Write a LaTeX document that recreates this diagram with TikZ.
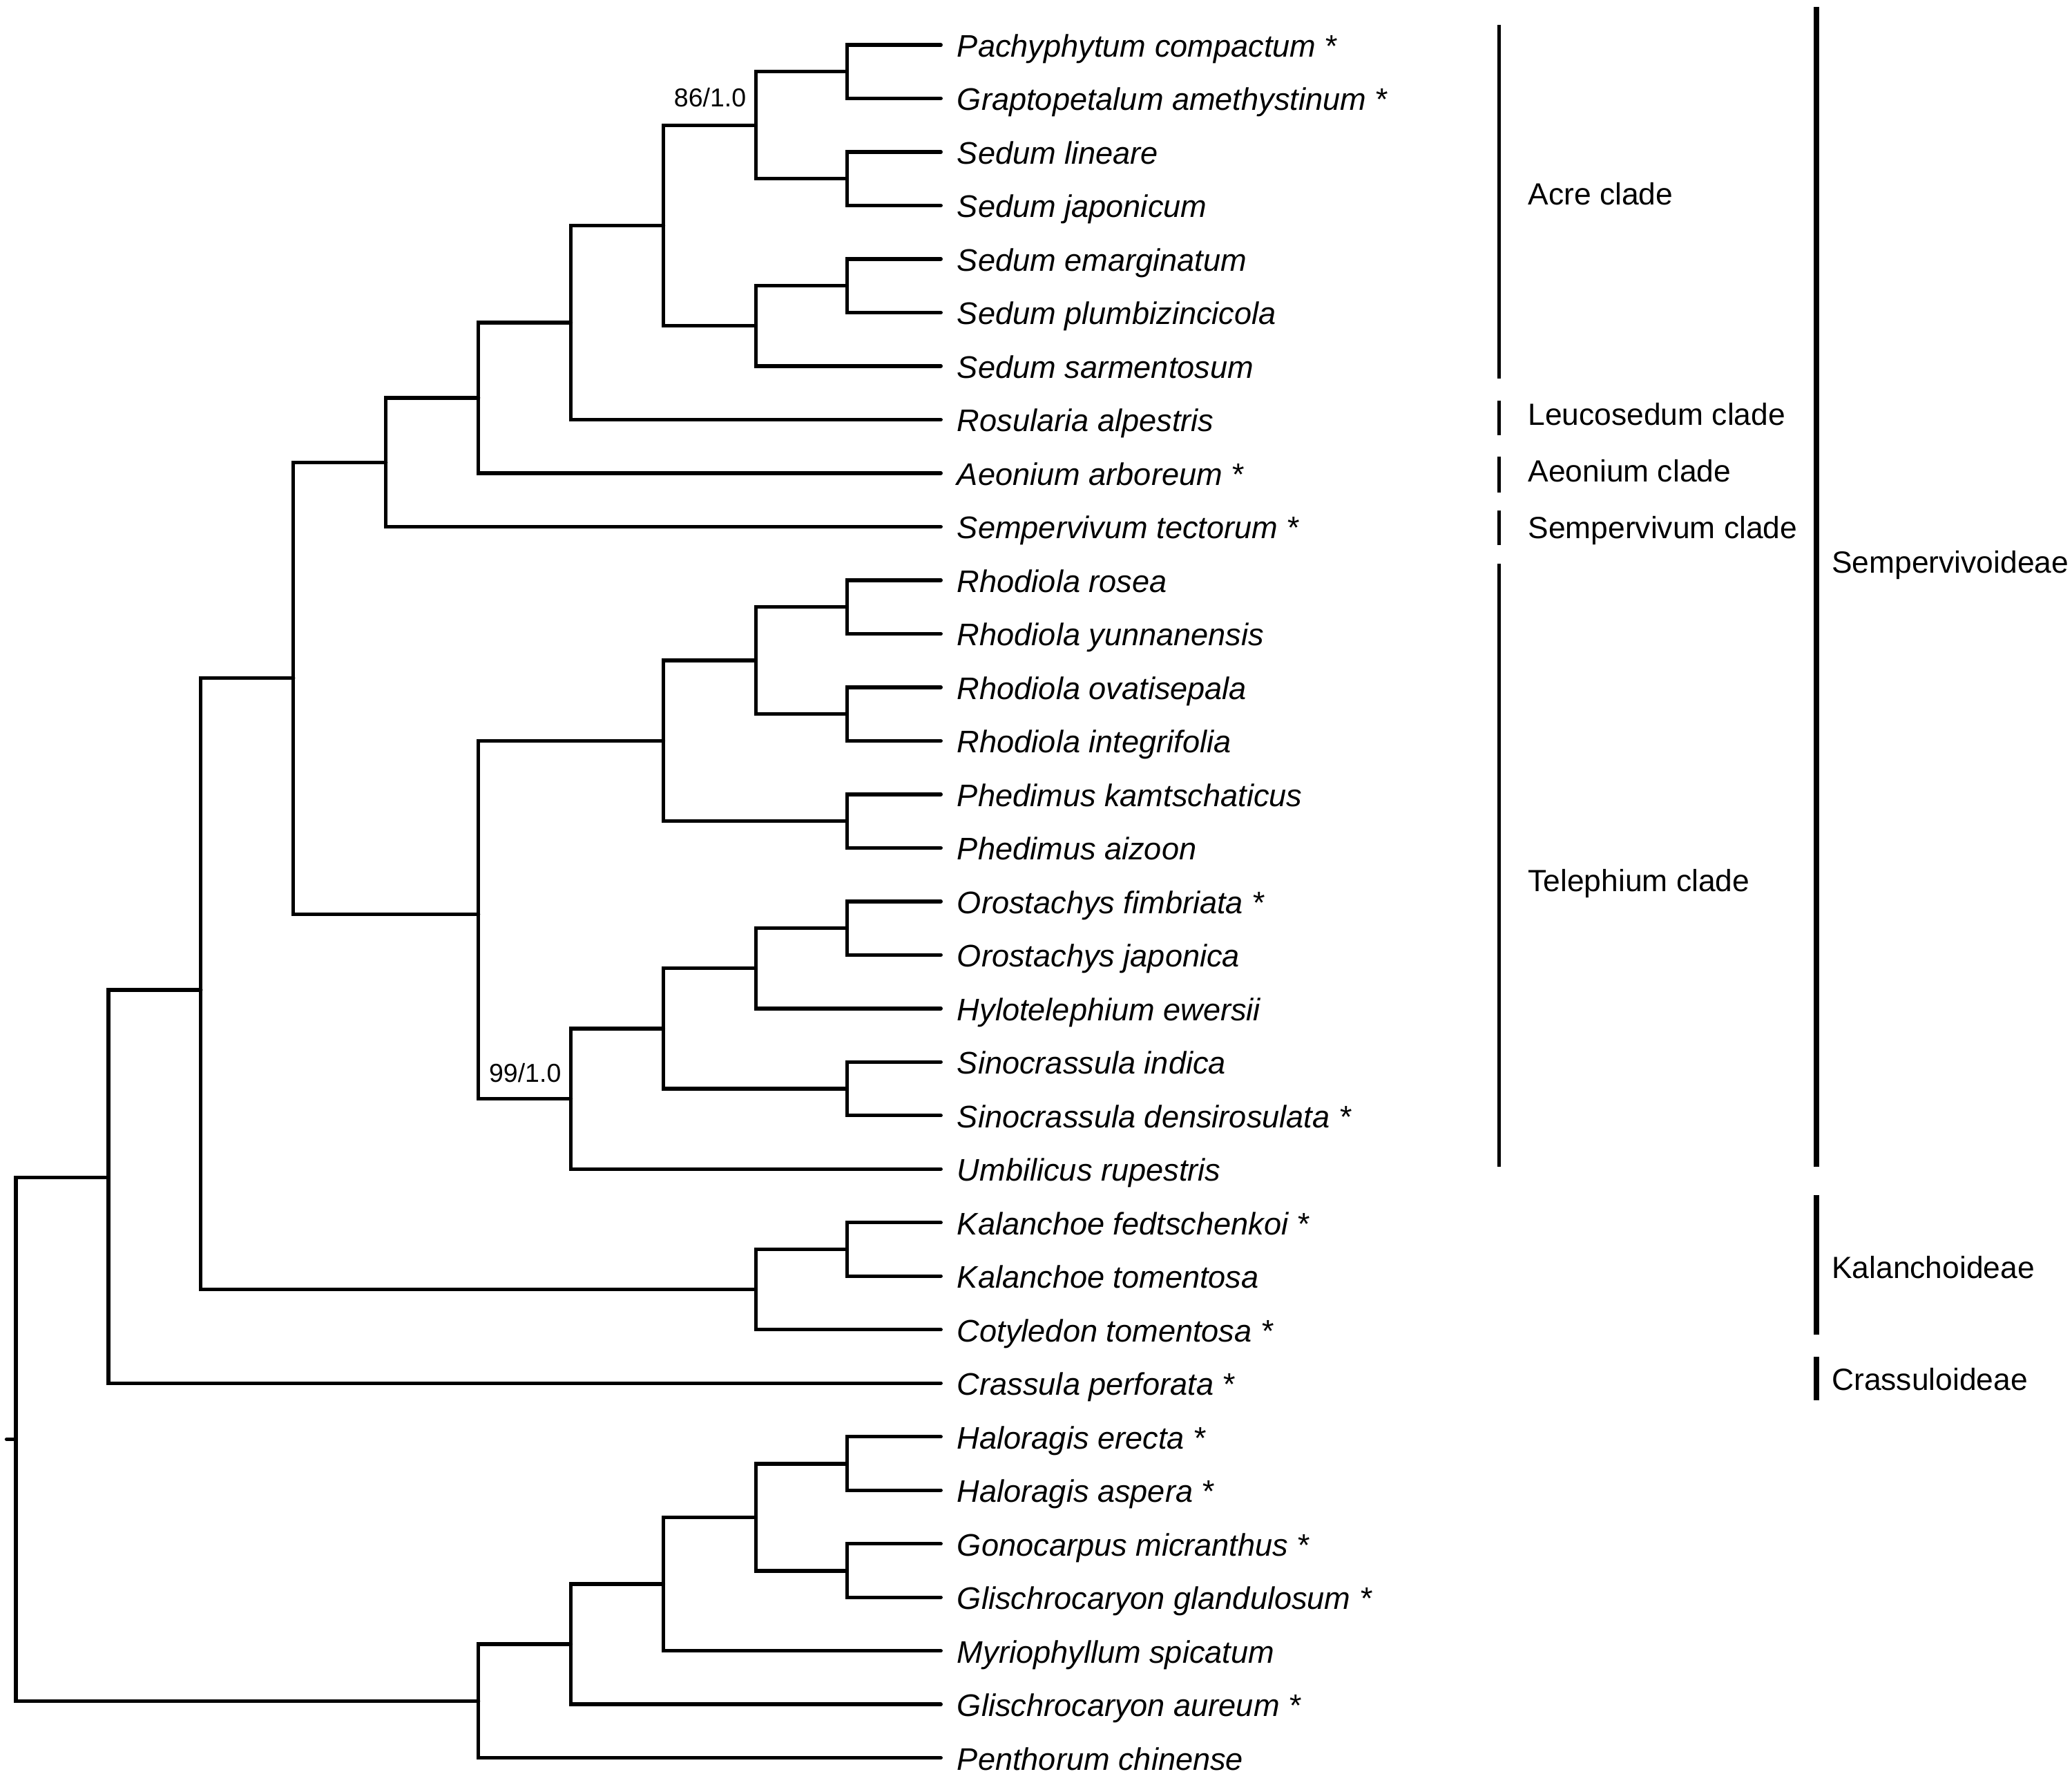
\documentclass[tikz,border=0pt]{standalone}
\usepackage{fontspec}
\setmainfont{Liberation Sans}
\usetikzlibrary{calc}

\tikzset{
  branch/.style={line width=1.4bp, line cap=round, line join=miter},
  taxon/.style={anchor=west, inner xsep=6bp, inner ysep=0pt, text height=11.5bp, text depth=2.4bp,
    font=\fontsize{11.8bp}{13bp}\selectfont\itshape},
  cladename/.style={anchor=base west, inner sep=0pt, font=\fontsize{11.6bp}{13bp}\selectfont},
  support/.style={anchor=base east, inner sep=0pt, font=\fontsize{9.8bp}{11bp}\selectfont},
  cladebar/.style={line width=1.35bp},
  subfambar/.style={line width=2.1bp}
}

\begin{document}
\begin{tikzpicture}[x=0.5bp,y=-0.5bp]
\useasboundingbox (0,0) rectangle (1568,1342);

% Taxa
\foreach \n/\t [count=\i from 0] in {
  pachy/Pachyphytum compactum *, grapto/Graptopetalum amethystinum *,
  slin/Sedum lineare, sjap/Sedum japonicum, semarg/Sedum emarginatum,
  splumb/Sedum plumbizincicola, ssarm/Sedum sarmentosum, rosul/Rosularia alpestris,
  aeon/Aeonium arboreum *, semp/Sempervivum tectorum *,
  rros/Rhodiola rosea, ryun/Rhodiola yunnanensis, rova/Rhodiola ovatisepala,
  rint/Rhodiola integrifolia, pkam/Phedimus kamtschaticus, paiz/Phedimus aizoon,
  ofim/Orostachys fimbriata *, ojap/Orostachys japonica, hyl/Hylotelephium ewersii,
  sind/Sinocrassula indica, sden/Sinocrassula densirosulata *, umb/Umbilicus rupestris,
  kfed/Kalanchoe fedtschenkoi *, ktom/Kalanchoe tomentosa, coty/Cotyledon tomentosa *,
  crass/Crassula perforata *, herec/Haloragis erecta *, hasp/Haloragis aspera *,
  gmic/Gonocarpus micranthus *, ggla/Glischrocaryon glandulosum *,
  myr/Myriophyllum spicatum, gaur/Glischrocaryon aureum *, penth/Penthorum chinense}
  \node[taxon] (\n) at (712,{34+40.5*\i}) {\t};

% Internal nodes
\coordinate (acreA) at (641,54.25);
\coordinate (acreB) at (641,135.25);
\coordinate (acreC) at (572,94.75);
\coordinate (acreD) at (641,216.25);
\coordinate (acreE) at (572,246.6);
\coordinate (acre) at (502,170.7);
\coordinate (leuco) at (432,244);
\coordinate (aeonium) at (362,301);
\coordinate (sempv) at (292,349.8);
\coordinate (teleA) at (641,459.25);
\coordinate (teleB) at (641,540.25);
\coordinate (teleC) at (572,499.75);
\coordinate (teleD) at (641,621.25);
\coordinate (teleE) at (502,560.5);
\coordinate (teleF) at (641,702.25);
\coordinate (teleG) at (572,732.6);
\coordinate (teleH) at (641,823.75);
\coordinate (teleI) at (502,778.2);
\coordinate (teleJ) at (432,831.3);
\coordinate (tele) at (362,691.6);
\coordinate (sempvoid) at (222,513);
\coordinate (kalA) at (641,945.25);
\coordinate (kal) at (572,975.6);
\coordinate (crassA) at (152,749);
\coordinate (crassul) at (82,891);
\coordinate (haloA) at (641,1107.5);
\coordinate (haloB) at (641,1188.5);
\coordinate (haloC) at (572,1148);
\coordinate (haloD) at (502,1198.5);
\coordinate (haloE) at (432,1244);
\coordinate (outgr) at (362,1287);
\coordinate (root) at (12,1089);
\coordinate (rootstub) at (5,1089);

% Branches
\foreach \p/\c in {acreA/pachy.west, acreA/grapto.west, acreB/slin.west, acreB/sjap.west,
  acreC/acreA, acreC/acreB, acreD/semarg.west, acreD/splumb.west, acreE/acreD, acreE/ssarm.west,
  acre/acreC, acre/acreE, leuco/acre, leuco/rosul.west, aeonium/leuco, aeonium/aeon.west,
  sempv/aeonium, sempv/semp.west,
  teleA/rros.west, teleA/ryun.west, teleB/rova.west, teleB/rint.west, teleC/teleA, teleC/teleB,
  teleD/pkam.west, teleD/paiz.west, teleE/teleC, teleE/teleD, teleF/ofim.west, teleF/ojap.west,
  teleG/teleF, teleG/hyl.west, teleH/sind.west, teleH/sden.west, teleI/teleG, teleI/teleH,
  teleJ/teleI, teleJ/umb.west, tele/teleE, tele/teleJ, sempvoid/sempv, sempvoid/tele,
  kalA/kfed.west, kalA/ktom.west, kal/kalA, kal/coty.west, crassA/sempvoid, crassA/kal,
  crassul/crassA, crassul/crass.west,
  haloA/herec.west, haloA/hasp.west, haloB/gmic.west, haloB/ggla.west, haloC/haloA, haloC/haloB,
  haloD/haloC, haloD/myr.west, haloE/haloD, haloE/gaur.west, outgr/haloE, outgr/penth.west,
  root/crassul, root/outgr}
  \draw[branch] (\p) |- (\c);
\draw[branch] (rootstub) -- (root);

% Support values
\node[support] (bsacre) at ($(acreC)+(-7,-14)$) {86/1.0};
\node[support] (bstele) at ($(teleJ)+(-7,-12.5)$) {99/1.0};

% Clades
\draw[cladebar] (1134.5,19) -- (1134.5,286.6);
\draw[cladebar] (1134.5,303) -- (1134.5,329.5);
\draw[cladebar] (1134.5,345.7) -- (1134.5,372.7);
\draw[cladebar] (1134.5,386) -- (1134.5,412.6);
\draw[cladebar] (1134.5,426.6) -- (1134.5,882.7);
\node[cladename] (acrelab) at (1156,155) {Acre clade};
\node[cladename] (leucolab) at (1156,321.6) {Leucosedum clade};
\node[cladename] (aeonlab) at (1156,364.6) {Aeonium clade};
\node[cladename] (semplab) at (1156,407.5) {Sempervivum clade};
\node[cladename] (telelab) at (1156,674.3) {Telephium clade};

% Subfamilies
\draw[subfambar] (1374.8,5.1) -- (1374.8,882.7);
\draw[subfambar] (1374.8,904.3) -- (1374.8,1010);
\draw[subfambar] (1374.8,1026.7) -- (1374.8,1059.5);
\node[cladename] (sempvlab) at (1385.8,433.6) {Sempervivoideae};
\node[cladename] (kallab) at (1385.8,967.4) {Kalanchoideae};
\node[cladename] (crasslab) at (1385.8,1051.6) {Crassuloideae};
\end{tikzpicture}
\end{document}
